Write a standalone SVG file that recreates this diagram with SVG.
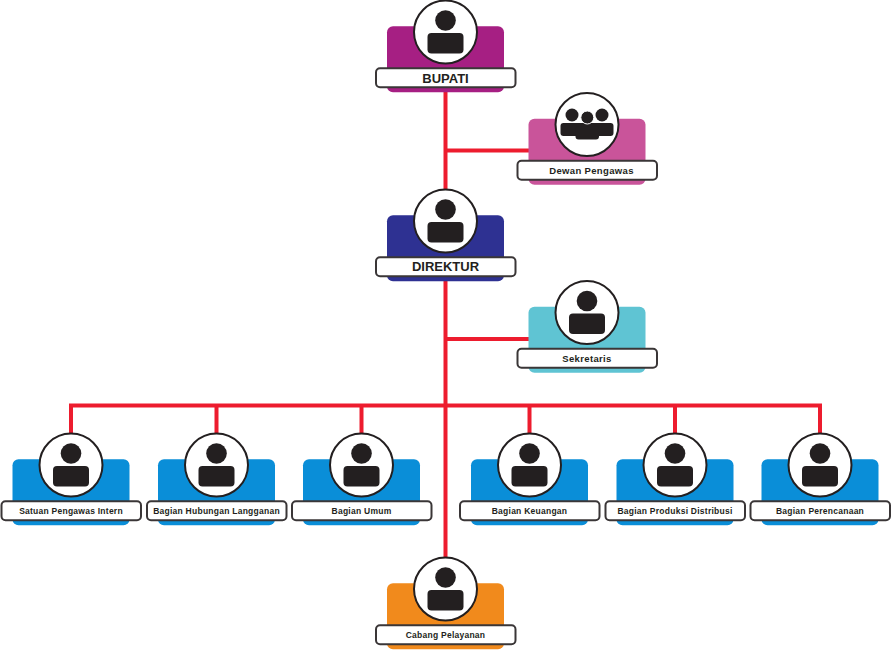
<svg xmlns="http://www.w3.org/2000/svg" width="891" height="650" viewBox="0 0 891 650">
<style>
.card{stroke:none}
.disc{fill:#fff;stroke:#231f20;stroke-width:2}
.pill{fill:#fff;stroke:#3a3637;stroke-width:2}
.ink{fill:#231f20}
.wire{stroke:#ed1c2e;stroke-width:4;fill:none}
text{font-family:"Liberation Sans",Arial,sans-serif;fill:#231f20;text-anchor:middle;font-weight:bold}
.big{font-size:13px}
.small{font-size:8.500px;letter-spacing:.25px}
.mid{font-size:9.500px;letter-spacing:.35px}
</style>
<defs>
<g id="person">
<circle cx="0" cy="-11.500" r="10.300" class="ink"/>
<rect x="-18" y="1" width="36" height="20.500" rx="4" class="ink"/>
</g>
<g id="base">
<rect x="-58.500" y="-5.800" width="117" height="66" rx="6" class="card"/>
<circle cx="0" cy="0" r="31.500" class="disc"/>
<rect x="-69.500" y="36.300" width="139.500" height="19" rx="4" class="pill"/>
</g>
</defs>
<g id="connectors">
<path class="wire" d="M445.500 88V586"/>
<path class="wire" d="M445.500 150.500H530M445.500 339H530"/>
<path class="wire" d="M71 434V405.500H820V434M216.500 405.500V434M361.500 405.500V434M529.500 405.500V434M675 405.500V434"/>
</g>
<g id="bupati"><use href="#base" transform="translate(445.500 32)" fill="#a61f83"/><use href="#person" transform="translate(445.500 32)"/><text class="big" x="445.500" y="82.500">BUPATI</text></g>
<g id="dewan-pengawas"><use href="#base" transform="translate(587 124.500)" fill="#c9549a"/>
<g class="ink"><circle cx="572" cy="115" r="6.500"/><circle cx="602" cy="115" r="6.500"/><rect x="560.500" y="123" width="53" height="13" rx="3"/><rect x="575.500" y="126" width="23.500" height="13.500" rx="3"/><circle cx="587.300" cy="117.500" r="6.500" stroke="#fff" stroke-width="1"/></g>
<text class="mid" x="591.500" y="173.500">Dewan Pengawas</text></g>
<g id="direktur"><use href="#base" transform="translate(445.500 221)" fill="#2e3192"/><use href="#person" transform="translate(445.500 221)"/><text class="big" x="445.500" y="271">DIREKTUR</text></g>
<g id="sekretaris"><use href="#base" transform="translate(587 312.500)" fill="#5fc4d3"/><use href="#person" transform="translate(587 312.500)"/><text class="mid" x="587" y="362">Sekretaris</text></g>
<g id="satuan-pengawas-intern"><use href="#base" transform="translate(71 465)" fill="#0a8ed8"/><use href="#person" transform="translate(71 465)"/><text class="small" x="71" y="514">Satuan Pengawas Intern</text></g>
<g id="bagian-hubungan-langganan"><use href="#base" transform="translate(216.500 465)" fill="#0a8ed8"/><use href="#person" transform="translate(216.500 465)"/><text class="small" x="216.500" y="514">Bagian Hubungan Langganan</text></g>
<g id="bagian-umum"><use href="#base" transform="translate(361.500 465)" fill="#0a8ed8"/><use href="#person" transform="translate(361.500 465)"/><text class="small" x="361.500" y="514">Bagian Umum</text></g>
<g id="bagian-keuangan"><use href="#base" transform="translate(529.500 465)" fill="#0a8ed8"/><use href="#person" transform="translate(529.500 465)"/><text class="small" x="529.500" y="514">Bagian Keuangan</text></g>
<g id="bagian-produksi-distribusi"><use href="#base" transform="translate(675 465)" fill="#0a8ed8"/><use href="#person" transform="translate(675 465)"/><text class="small" x="675" y="514">Bagian Produksi Distribusi</text></g>
<g id="bagian-perencanaan"><use href="#base" transform="translate(820 465)" fill="#0a8ed8"/><use href="#person" transform="translate(820 465)"/><text class="small" x="820" y="514">Bagian Perencanaan</text></g>
<g id="cabang-pelayanan"><use href="#base" transform="translate(445.500 589)" fill="#f18a1c"/><use href="#person" transform="translate(445.500 589)"/><text class="small" x="445.500" y="638">Cabang Pelayanan</text></g>
</svg>
